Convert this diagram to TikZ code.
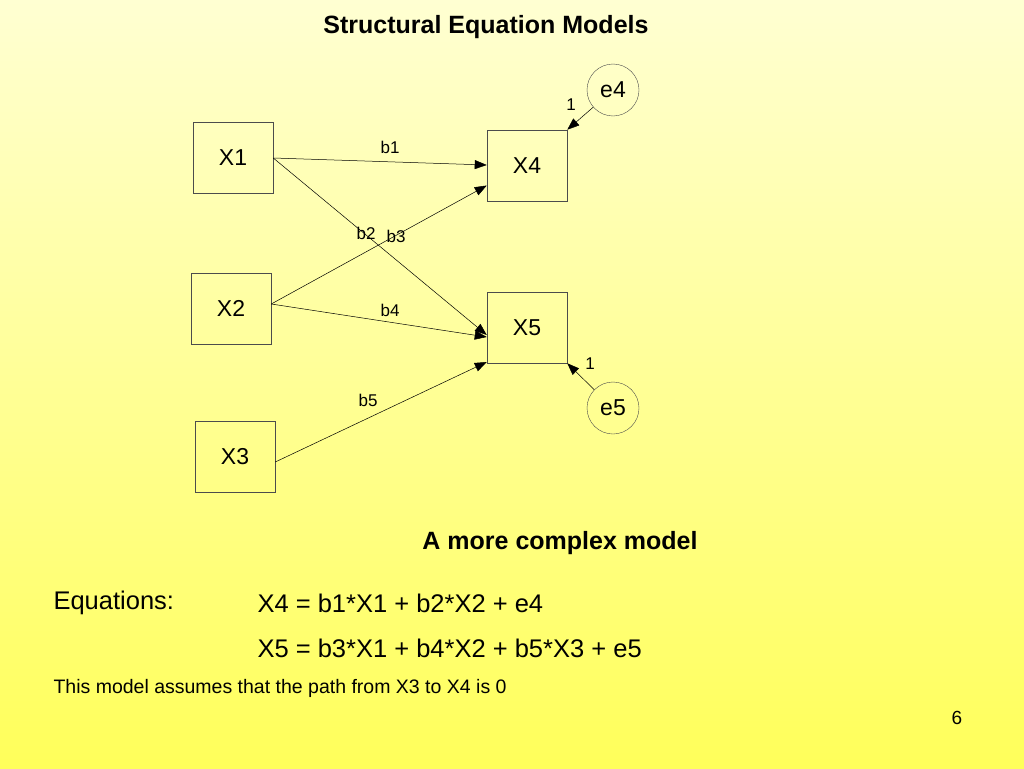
\documentclass[tikz,border=0pt]{standalone}
\usepackage{fontspec}
\setmainfont{Liberation Sans}
\usetikzlibrary{arrows.meta}
\begin{document}
\begin{tikzpicture}[x=1pt,y=-1pt,
  box/.style={draw=black!70,line width=0.5pt,minimum width=80pt,minimum height=71pt,inner sep=0pt,font=\fontsize{23}{26}\selectfont},
  err/.style={draw=black!70,circle,minimum size=52pt,inner sep=0pt,font=\fontsize{23}{26}\selectfont},
  path/.style={line width=0.5pt,-{Triangle[length=12pt,width=9pt]}},
  lab/.style={font=\fontsize{17}{19}\selectfont}]
\shade[top color={rgb,255:red,255;green,255;blue,210},bottom color={rgb,255:red,255;green,255;blue,90}] (0,0) rectangle (1024,768);
\useasboundingbox (0,0) rectangle (1024,768);
\node[font=\bfseries\fontsize{25}{28}\selectfont] (title) at (486,27) {Structural Equation Models};
\node[box] (X1) at (233,158) {X1};
\node[box] (X2) at (231,308.5) {X2};
\node[box] (X3) at (235,456.5) {X3};
\node[box] (X4) at (527,165.5) {X4};
\node[box] (X5) at (527,327.5) {X5};
\node[err] (e4) at (613,90) {e4};
\node[err] (e5) at (613,408) {e5};
\draw[path] (X1.east) -- ([yshift=0.5pt]X4.west);
\draw[path] (X1.east) -- ([yshift=-7.5pt]X5.west);
\draw[path] ([yshift=4.5pt]X2.east) -- ([yshift=-20pt]X4.west);
\draw[path] ([yshift=4.5pt]X2.east) -- ([yshift=-9.5pt]X5.west);
\draw[path] ([yshift=-5.5pt]X3.east) -- ([yshift=-34.5pt]X5.west);
\draw[path] (e4) -- (X4.north east);
\draw[path] (e5) -- (X5.south east);
\node[lab] (b1) at (390,147) {b1};
\node[lab] (b2) at (366,233) {b2};
\node[lab] (b3) at (396,236) {b3};
\node[lab] (b4) at (390,310) {b4};
\node[lab] (b5) at (368,400) {b5};
\node[lab] (one4) at (571,105) {1};
\node[lab] (one5) at (590,364) {1};
\node[font=\bfseries\fontsize{25}{28}\selectfont] (sub) at (560,543) {A more complex model};
\node[anchor=west,font=\fontsize{25.5}{28}\selectfont] (eqs) at (50,603) {Equations:};
\node[anchor=west,font=\fontsize{25.5}{28}\selectfont] (eq1) at (254,603) {X4 = b1*X1 + b2*X2 + e4};
\node[anchor=west,font=\fontsize{25.5}{28}\selectfont] (eq2) at (254,648) {X5 = b3*X1 + b4*X2 + b5*X3 + e5};
\node[anchor=west,font=\fontsize{19.5}{22}\selectfont] (note) at (50,688) {This model assumes that the path from X3 to X4 is 0};
\node[font=\fontsize{19}{22}\selectfont] (pg) at (957,718) {6};
\end{tikzpicture}
\end{document}
